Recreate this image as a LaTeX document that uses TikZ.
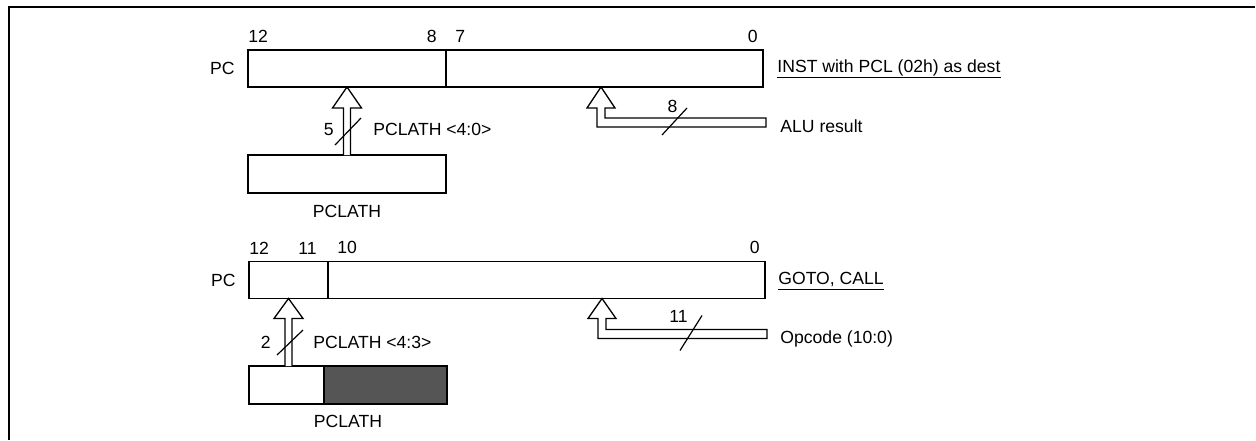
\documentclass[tikz,border=0pt]{standalone}
\usepackage{fontspec}
\setmainfont{Liberation Sans}
\usepackage{tikz}
\usetikzlibrary{positioning,calc}
\definecolor{latchdark}{HTML}{555555}

\begin{document}
\begin{tikzpicture}[
  x=0.5pt, y=-0.5pt,
  font=\fontsize{8.8}{10}\selectfont,
  reg/.style={rectangle, draw, line width=0.75pt, inner sep=0pt, outer sep=0pt,
              minimum height=18.5pt},
  latchbox/.style={rectangle, draw, line width=0.75pt, inner sep=0pt, outer sep=0pt,
              minimum height=19pt},
  bit/.style={inner sep=0pt},
  sidelabel/.style={inner sep=0pt, anchor=base west},
  bus/.style={draw, line width=0.65pt, fill=white, line join=miter},
  slash/.style={line width=0.6pt},
  uline/.style={line width=0.5pt},
]
\useasboundingbox (0,0) rectangle (1256,440);

% Frame
\draw[line width=1pt] (9,440) -- (9,7) -- (1255,7);

% Upper case: PCL as destination
\node[reg, minimum width=99pt] (pchi) at (347,68.5) {};
\node[reg, minimum width=158.5pt, right=0pt of pchi] (pclo) {};
\node[bit, left=6.5pt of pchi] (pclbl) {PC};
\node[bit, anchor=south west] at ([yshift=3.5pt]pchi.north west) {12};
\node[bit, anchor=south east] at ([xshift=-4.5pt,yshift=3.5pt]pchi.north east) {8};
\node[bit, anchor=south west] at ([xshift=4.5pt,yshift=3.5pt]pclo.north west) {7};
\node[bit, anchor=south east] at ([xshift=-2.5pt,yshift=3.5pt]pclo.north east) {0};
\node[sidelabel] (inst) at ($(pclo.east)+(14,3.5)$) {INST with PCL (02h) as dest};
\draw[uline] ([yshift=-2.5pt]inst.base west) -- ([yshift=-2.5pt]inst.base east);

\node[latchbox, minimum width=99pt] (latch) at (347,174) {};
\node[bit, below=6pt of latch] {PCLATH};

% PCLATH <4:0> into PC<12:8>
\draw[bus] ($(latch.north)+(-3.5,0)$) |- ($(pchi.south)+(-14.5,21)$) -- (pchi.south)
  -- ($(pchi.south)+(14.5,21)$) -| ($(latch.north)+(3.5,0)$);
\draw[slash] ($(latch.north)+(-12,-10)$) -- ++(26,-27);
\node[bit, anchor=base east] at ($(latch.north)+(-13,-20)$) {5};
\node[bit, anchor=base west] at ($(latch.north)+(26,-20)$) {PCLATH <4:0>};

% ALU result into PCL
\coordinate (alutip) at ($(pclo.south west)+(155,0)$);
\coordinate (alusrc) at ($(alutip)+(165,35.5)$);
\draw[bus] ($(alusrc)+(0,-4.5)$) -- ($(alutip)+(4,31)$) -- ($(alutip)+(4,21)$)
  -- ($(alutip)+(14,21)$) -- (alutip) -- ($(alutip)+(-14,21)$) -- ($(alutip)+(-4,21)$)
  -- ($(alutip)+(-4,40)$) -- ($(alusrc)+(0,4.5)$) -- cycle;
\draw[slash] ($(alutip)+(61,48)$) -- ++(25,-27);
\node[bit, anchor=base] at ($(alutip)+(71.5,25)$) {8};
\node[sidelabel] at ($(alusrc)+(14,9.5)$) {ALU result};

% Lower case: GOTO, CALL
\node[reg, minimum width=39.5pt] (pchi2) at (288.5,280) {};
\node[reg, minimum width=218.5pt, right=0pt of pchi2] (pclo2) {};
\node[bit, left=6.5pt of pchi2] (pclbl2) {PC};
\node[bit, anchor=south west] at ([yshift=3.5pt]pchi2.north west) {12};
\node[bit, anchor=south east] at ([xshift=-5.5pt,yshift=3.5pt]pchi2.north east) {11};
\node[bit, anchor=south west] at ([xshift=4.5pt,yshift=3.5pt]pclo2.north west) {10};
\node[bit, anchor=south east] at ([xshift=-2.5pt,yshift=3.5pt]pclo2.north east) {0};
\node[sidelabel] (gotocall) at ($(pclo2.east)+(13,4)$) {GOTO, CALL};
\draw[uline] ([yshift=-2.5pt]gotocall.base west) -- ([yshift=-2.5pt]gotocall.base east);

\node[latchbox, minimum width=37.5pt] (latchlo) at (286.5,385) {};
\node[latchbox, minimum width=61.5pt, fill=latchdark, right=0pt of latchlo] (latchhi) {};
\node[bit, anchor=north] at ($(latchlo.south west)!0.5!(latchhi.south east)+(0,11)$) {PCLATH};

% PCLATH <4:3> into PC<12:11>
\coordinate (src2) at (pchi2.south |- latchlo.north);
\draw[bus] ($(src2)+(-3.5,0)$) |- ($(pchi2.south)+(-14.5,20)$) -- (pchi2.south)
  -- ($(pchi2.south)+(14.5,20)$) -| ($(src2)+(3.5,0)$);
\draw[slash] ($(src2)+(-11.5,-11)$) -- ++(26,-25);
\node[bit, anchor=base east] at ($(src2)+(-17.5,-18)$) {2};
\node[bit, anchor=base west] at ($(src2)+(24.5,-18)$) {PCLATH <4:3>};

% Opcode into PC<10:0>
\coordinate (optip) at ($(pclo2.south west)+(274,0)$);
\coordinate (opsrc) at ($(optip)+(165,35.5)$);
\draw[bus] ($(opsrc)+(0,-4.5)$) -- ($(optip)+(4,31)$) -- ($(optip)+(4,20)$)
  -- ($(optip)+(14,20)$) -- (optip) -- ($(optip)+(-14,20)$) -- ($(optip)+(-4,20)$)
  -- ($(optip)+(-4,40)$) -- ($(opsrc)+(0,4.5)$) -- cycle;
\draw[slash] ($(optip)+(78,52)$) -- ++(22,-35);
\node[bit, anchor=base] at ($(optip)+(76.5,24)$) {11};
\node[sidelabel] at ($(opsrc)+(13,9)$) {Opcode (10:0)};

\end{tikzpicture}
\end{document}
